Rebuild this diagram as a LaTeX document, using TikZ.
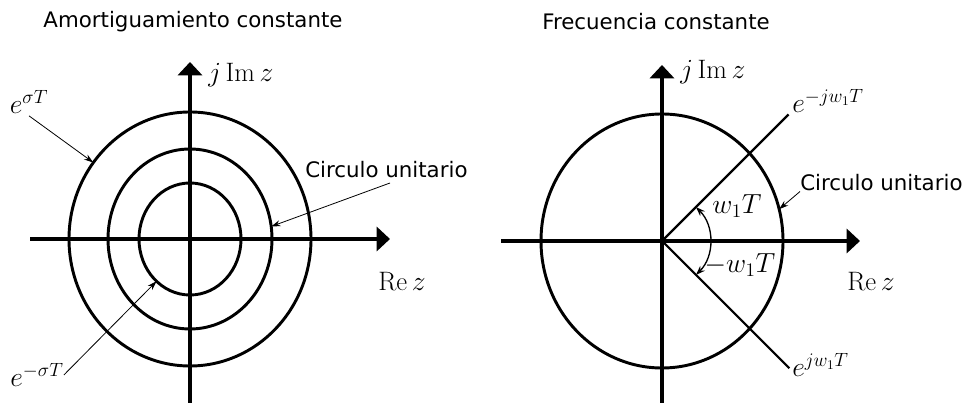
\documentclass[tikz,border=0pt]{standalone}
\usepackage{amsmath}
\usepackage{fontspec}
\newfontfamily\labelfont{DejaVu Sans}
\usetikzlibrary{arrows.meta,calc}

\tikzset{
  axis/.style={line width=3pt, -{Triangle[length=10pt,width=18pt]}},
  zcirc/.style={line width=2.2pt},
  ray/.style={line width=1.6pt},
  leader/.style={line width=0.6pt, -{Stealth[length=7pt,width=4.5pt]}},
  anglearc/.style={line width=1pt, {Stealth[length=7pt,width=5pt]}-{Stealth[length=7pt,width=5pt]}},
  txt/.style={font=\fontsize{16}{19}\labelfont, inner sep=0pt},
  mathbig/.style={font=\fontsize{20}{24}\selectfont, inner sep=0pt}
}

\begin{document}
\begin{tikzpicture}[x=0.75pt,y=0.75pt]
\useasboundingbox (0,0) rectangle (967,403);

% constant damping
\node[txt] (tL) at (193,381) {Amortiguamiento constante};
\coordinate (oL) at (190,164);
\coordinate (bL) at (190,0);
\coordinate (topL) at (190,341);
\coordinate (lL) at (30,164);
\coordinate (rL) at (390,164);
\foreach \rx/\ry in {121/127, 82/90, 51/56}
  \draw[zcirc] (oL) ellipse [x radius=\rx, y radius=\ry];
\draw[axis] (lL) -- (rL);
\draw[axis] (bL) -- (topL);
\node[mathbig, anchor=west] (imL) at (208,328) {$j\,\mathrm{Im}\,z$};
\node[mathbig, anchor=west] (reL) at (378,121) {$\mathrm{Re}\,z$};
\node[mathbig] (eposL) at (29,301) {$e^{\sigma T}$};
\node[mathbig] (enegL) at (37,28) {$e^{-\sigma T}$};
\node[txt, anchor=west] (cuL) at (305,233) {Circulo unitario};
\coordinate (pOut) at ($(oL)+(143:121 and 127)$);
\coordinate (pIn) at ($(oL)+(229:51 and 56)$);
\coordinate (pMid) at ($(oL)+(8:82 and 90)$);
\coordinate (cuLfoot) at (390,220);
\draw[leader] (eposL.south) ++(0,-2) coordinate (eposFoot) -- (pOut);
\draw[leader] (enegL.east) -- (pIn);
\draw[leader] (cuLfoot) -- (pMid);

% constant frequency
\node[txt] (tR) at (656,381) {Frecuencia constante};
\coordinate (oR) at (662,162);
\coordinate (bR) at (662,0);
\coordinate (topR) at (662,338);
\coordinate (lR) at (501,162);
\coordinate (rR) at (860,162);
\draw[zcirc] (oR) ellipse [x radius=121, y radius=127];
\draw[axis] (lR) -- (rR);
\draw[axis] (bR) -- (topR);
\coordinate (upR) at ($(oR)+(45:179)$);
\coordinate (dnR) at ($(oR)+(-45:180)$);
\draw[ray] (oR) -- (upR);
\draw[ray] (oR) -- (dnR);
\draw[anglearc] ($(oR)+(-45:48)$) arc[start angle=-45, end angle=45, radius=48];
\node[mathbig, anchor=west] (imR) at (680,331) {$j\,\mathrm{Im}\,z$};
\node[mathbig, anchor=west] (reR) at (847,121) {$\mathrm{Re}\,z$};
\node[mathbig, anchor=base west] (enegR) at (792,290) {$e^{-jw_1T}$};
\node[mathbig, anchor=base west] (eposR) at (792,26) {$e^{jw_1T}$};
\node[mathbig] (wpos) at (737,197) {$w_1T$};
\node[mathbig] (wneg) at (740,138) {$-w_1T$};
\node[txt, anchor=west] (cuR) at (800,220) {Circulo unitario};
\coordinate (pR) at ($(oR)+(14.5:121 and 127)$);
\draw[leader] (cuR.south west) -- (pR);
\end{tikzpicture}
\end{document}
